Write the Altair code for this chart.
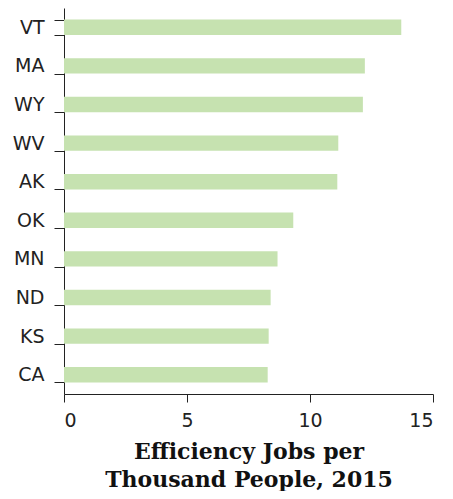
import altair as alt
import pandas as pd

states = ["VT", "MA", "WY", "WV", "AK", "OK", "MN", "ND", "KS", "CA"]
jobs = [13.71, 12.23, 12.15, 11.15, 11.11, 9.32, 8.68, 8.40, 8.32, 8.28]

df = pd.DataFrame({"state": states, "jobs": jobs})

chart = alt.Chart(df).mark_bar(color="#c6e2b0").encode(
    x=alt.X(
        "jobs:Q",
        scale=alt.Scale(domain=[0, 15], nice=False),
        axis=alt.Axis(
            values=[0, 5, 10, 15],
            format="d",
            grid=False,
            tickSize=8,
            labelPadding=9,
            title=["Efficiency Jobs per", "Thousand People, 2015"],
            titleFont="DejaVu Serif",
            titleFontWeight="bold",
            titleFontSize=22,
            titleColor="#111",
            titleBaseline="alphabetic",
            titleY=64,
            titleLineHeight=28,
        ),
    ),
    y=alt.Y(
        "state:N",
        sort=states,
        scale=alt.Scale(paddingInner=0.6, paddingOuter=0.3),
        axis=alt.Axis(
            title=None,
            tickBand="extent",
            tickSize=10,
            labelPadding=10,
        ),
    ),
).properties(
    width=369,
    height=386,
    autosize=alt.AutoSizeParams(type="none"),
    padding={"left": 56, "top": 0, "right": 12, "bottom": 97},
).configure_view(stroke=None).configure_axis(
    domainColor="#222",
    tickColor="#222",
    labelColor="#222",
    labelFont="DejaVu Sans",
    labelFontSize=19,
    domainWidth=1,
    tickWidth=1,
)

chart.save("out.html", embed_options={"renderer": "svg", "actions": False})
